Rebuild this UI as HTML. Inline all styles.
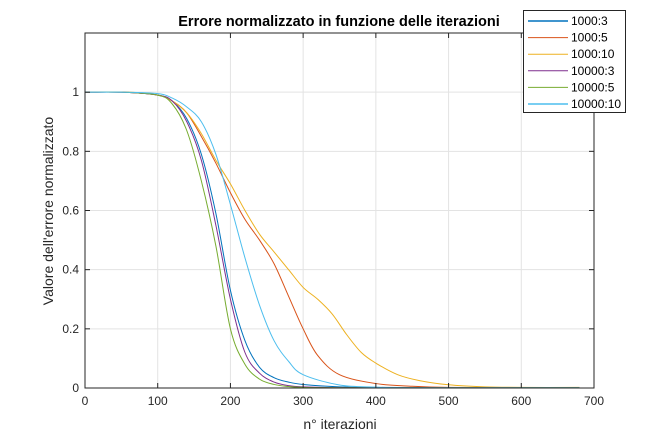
<!DOCTYPE html>
<html><head><meta charset="utf-8"><style>
html,body{margin:0;padding:0;background:#fff;}
svg{display:block;font-family:"Liberation Sans",sans-serif;}
</style></head><body>
<svg id="chart" width="656" height="437" xmlns="http://www.w3.org/2000/svg">
<rect width="656" height="437" fill="#fff"/>
<g id="grid"></g>
<g id="series"></g>
<g id="axes"></g>
<text x="339" y="26" text-anchor="middle" font-size="14.5" font-weight="bold" fill="#000">Errore normalizzato in funzione delle iterazioni</text>
<text x="340" y="429" text-anchor="middle" font-size="14" fill="#262626">n° iterazioni</text>
<text transform="translate(53,211) rotate(-90)" text-anchor="middle" font-size="14" fill="#262626">Valore dell'errore normalizzato</text>
<g id="legend"></g>
</svg>
<script>
const xTicks=[0,100,200,300,400,500,600,700];
const yTicks=[0,0.2,0.4,0.6,0.8,1];
const yTickLabels=["0","0.2","0.4","0.6","0.8","1"];
const seriesNames=["1000:3","1000:5","1000:10","10000:3","10000:5","10000:10"];
const seriesColors=["#0072BD","#D95319","#EDB120","#7E2F8E","#77AC30","#4DBEEE"];
const x1000_3=[0,50,100,120,140,160,180,200,220,240,260,280,300,350,400,500,600,680];
const y1000_3=[1,1,0.99,0.97,0.91,0.79,0.59,0.33,0.16,0.07,0.035,0.02,0.012,0.004,0.002,0.001,0.001,0.001];
const x1000_5=[0,50,100,120,140,160,180,200,220,240,260,280,300,320,350,400,450,500,600,680];
const y1000_5=[1,1,0.99,0.97,0.93,0.85,0.76,0.66,0.57,0.5,0.42,0.31,0.2,0.11,0.045,0.015,0.006,0.002,0.001,0.001];
const x1000_10=[30,60,100,120,140,160,180,200,220,240,260,280,300,320,340,360,380,400,430,460,500,550,600,680];
const y1000_10=[1,1,0.99,0.97,0.93,0.86,0.77,0.69,0.6,0.52,0.46,0.4,0.34,0.3,0.25,0.18,0.12,0.084,0.045,0.025,0.011,0.004,0.002,0.002];
const x10000_3=[0,50,100,120,140,160,180,200,220,240,260,280,300,350,400,680];
const y10000_3=[1,1,0.99,0.97,0.9,0.77,0.55,0.3,0.12,0.05,0.02,0.008,0.004,0.001,0.001,0.001];
const x10000_5=[0,50,100,120,140,160,180,200,220,240,260,280,300,350,680];
const y10000_5=[1,1,0.99,0.96,0.87,0.7,0.48,0.2,0.08,0.03,0.012,0.005,0.002,0.001,0.001];
const x10000_10=[0,50,100,120,140,160,180,200,220,240,260,280,300,350,400,450,680];
const y10000_10=[1,1,0.995,0.98,0.95,0.9,0.79,0.62,0.44,0.28,0.16,0.09,0.045,0.01,0.003,0.001,0.001];
const xs=[x1000_3,x1000_5,x1000_10,x10000_3,x10000_5,x10000_10];
const ys=[y1000_3,y1000_5,y1000_10,y10000_3,y10000_5,y10000_10];

const L=85,R=594,T=33,B=388;
const X=v=>L+v/700*(R-L);
const Y=v=>B-v/1.2*(B-T);
const NS="http://www.w3.org/2000/svg";
function mk(tag,parent,attrs){const e=document.createElementNS(NS,tag);for(const k in attrs)e.setAttribute(k,attrs[k]);parent.appendChild(e);return e;}
const grid=document.getElementById('grid'),axes=document.getElementById('axes'),ser=document.getElementById('series'),leg=document.getElementById('legend');
xTicks.forEach((t,i)=>{
  const g=mk('line',grid,{x1:X(t),x2:X(t),y1:T,y2:B,stroke:'#e3e3e3','stroke-width':1});
  
  
  const tk=mk('line',axes,{x1:X(t),x2:X(t),y1:B,y2:B-5,stroke:'#262626'});
  
  
  const tk2=mk('line',axes,{x1:X(t),x2:X(t),y1:T,y2:T+5,stroke:'#262626'});
  
  
  const tx=mk('text',axes,{x:X(t),y:B+17,'text-anchor':'middle','font-size':12,fill:'#262626'});
  tx.textContent=t;
  
  
});
yTicks.forEach((t,i)=>{
  const g=mk('line',grid,{x1:L,x2:R,y1:Y(t),y2:Y(t),stroke:'#e3e3e3','stroke-width':1});
  
  
  const tk=mk('line',axes,{x1:L,x2:L+5,y1:Y(t),y2:Y(t),stroke:'#262626'});
  
  
  const tk2=mk('line',axes,{x1:R,x2:R-5,y1:Y(t),y2:Y(t),stroke:'#262626'});
  
  
  const tx=mk('text',axes,{x:L-6,y:Y(t)+4,'text-anchor':'end','font-size':12,fill:'#262626'});
  tx.textContent=yTickLabels[i];
  
  
});
const box=mk('rect',axes,{x:L,y:T,width:R-L,height:B-T,fill:'none',stroke:'#262626','stroke-width':1});



function smooth(px,py){
  let d='M'+px[0].toFixed(2)+','+py[0].toFixed(2);
  for(let i=0;i<px.length-1;i++){
    const x0=px[Math.max(i-1,0)],y0=py[Math.max(i-1,0)],x1=px[i],y1=py[i],x2=px[i+1],y2=py[i+1],x3=px[Math.min(i+2,px.length-1)],y3=py[Math.min(i+2,px.length-1)];
    const c1x=x1+(x2-x0)/6,c1y=y1+(y2-y0)/6,c2x=x2-(x3-x1)/6,c2y=y2-(y3-y1)/6;
    d+=' C'+c1x.toFixed(2)+','+c1y.toFixed(2)+' '+c2x.toFixed(2)+','+c2y.toFixed(2)+' '+x2.toFixed(2)+','+y2.toFixed(2);
  }
  return d;
}
xs.forEach((xa,s)=>{
  const p=mk('path',ser,{d:smooth(xa.map(X),ys[s].map(Y)),fill:'none',stroke:seriesColors[s],'stroke-width':1});
  
  
});
const lb=mk('rect',leg,{x:523.5,y:10.5,width:102,height:102,fill:'#fff',stroke:'#262626','stroke-width':1});


seriesNames.forEach((n,i)=>{
  const yy=21+i*16.6;
  const ln=mk('line',leg,{x1:528,x2:568,y1:yy,y2:yy,stroke:seriesColors[i],'stroke-width':(i==0||i==5)?1.5:1});
  
  
  const t=mk('text',leg,{x:571,y:yy+4,'font-size':12,fill:'#000'});
  t.textContent=n;
  
  
});
</script>
</body></html>
